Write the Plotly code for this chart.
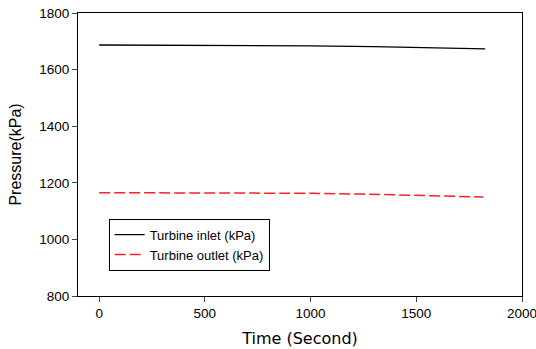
import plotly.graph_objects as go

t_inlet = [0, 714, 1000, 1300, 1500, 1650, 1826]
p_inlet = [1687, 1686, 1684, 1681, 1679, 1676, 1673]
t_outlet = [0, 667, 1012, 1250, 1410, 1565, 1650, 1817]
p_outlet = [1165, 1165, 1163, 1160, 1157, 1154, 1152, 1150]
x_ticks = [0, 500, 1000, 1500, 2000]
y_ticks = [800, 1000, 1200, 1400, 1600, 1800]

fig = go.Figure()
fig.add_trace(go.Scatter(x=t_inlet, y=p_inlet, mode="lines", name="Turbine inlet (kPa)",
                         line=dict(color="black", width=1.3)))
fig.add_trace(go.Scatter(x=t_outlet, y=p_outlet, mode="lines", name="Turbine outlet (kPa)",
                         line=dict(color="#ff2020", width=1.5, dash="11px,4px")))

font = "Liberation Sans, Arial, sans-serif"
fig.update_layout(
    width=536, height=349,
    margin=dict(l=78, r=14, t=13, b=53),
    paper_bgcolor="white", plot_bgcolor="white",
    font=dict(family=font, size=13.5, color="black"),
    showlegend=True,
    legend=dict(x=0.069, y=0.273, xanchor="left", yanchor="top",
                bordercolor="black", borderwidth=1, bgcolor="white",
                font=dict(size=13, family=font), tracegroupgap=0,
                itemwidth=30),
    xaxis=dict(range=[-100, 2000], tickvals=x_ticks, ticks="outside", ticklen=5,
               showline=True, linecolor="black", linewidth=1, mirror=True,
               showgrid=False, zeroline=False, automargin=False,
               ticklabeloverflow="allow",
               tickfont=dict(size=13.5),
               title=dict(text="Time (Second)",
                          font=dict(size=16, family="DejaVu Sans, sans-serif"),
                          standoff=12)),
    yaxis=dict(range=[800, 1800], tickvals=y_ticks, ticks="outside", ticklen=5,
               showline=True, linecolor="black", linewidth=1, mirror=True,
               showgrid=False, zeroline=False, automargin=False,
               tickfont=dict(size=13.5),
               title=dict(text="Pressure(kPa)", font=dict(size=16), standoff=13)),
)
fig.write_html("out.html")
